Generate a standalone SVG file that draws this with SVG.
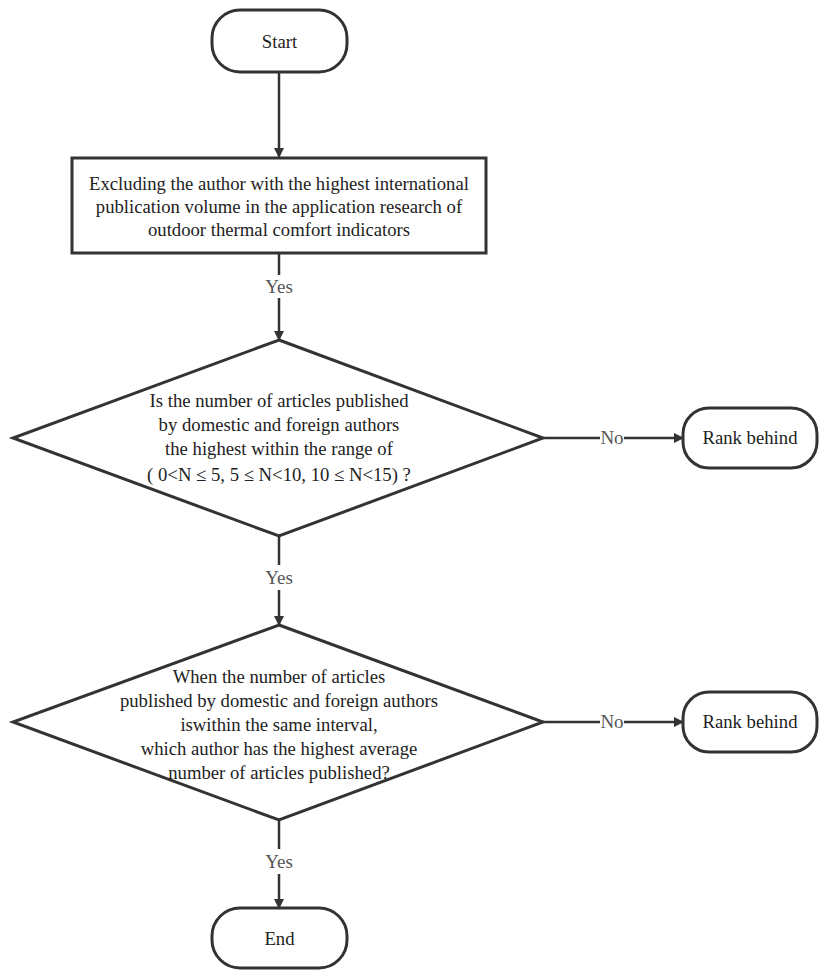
<svg xmlns="http://www.w3.org/2000/svg" width="827" height="980" viewBox="0 0 827 980">
<defs>
<marker id="arr" markerWidth="10" markerHeight="10" refX="9" refY="5" orient="auto" markerUnits="userSpaceOnUse" viewBox="0 0 10 10">
<path d="M0,0 L10,5 L0,10 z" fill="#333"/>
</marker>
<style>
.shape{fill:#fff;stroke:#333;stroke-width:3}
.line{fill:none;stroke:#333;stroke-width:2.5}
text{font-family:'Liberation Serif','DejaVu Serif',serif;text-anchor:middle}
.t{fill:#222;font-size:18.7px}
.lbl{fill:#555;font-size:19px}
</style>
</defs>
<rect width="827" height="980" fill="#fff"/>
<g id="connectors">
<line class="line" x1="279" y1="72" x2="279" y2="157" marker-end="url(#arr)"/>
<line class="line" x1="279" y1="253" x2="279" y2="275"/>
<line class="line" x1="279" y1="298" x2="279" y2="340" marker-end="url(#arr)"/>
<text class="lbl" x="279" y="293">Yes</text>
<line class="line" x1="543" y1="438" x2="600" y2="438"/>
<line class="line" x1="624" y1="438" x2="683" y2="438" marker-end="url(#arr)"/>
<text class="lbl" x="612" y="444">No</text>
<line class="line" x1="279" y1="536" x2="279" y2="565"/>
<line class="line" x1="279" y1="590" x2="279" y2="625" marker-end="url(#arr)"/>
<text class="lbl" x="279" y="584">Yes</text>
<line class="line" x1="543" y1="722" x2="600" y2="722"/>
<line class="line" x1="624" y1="722" x2="683" y2="722" marker-end="url(#arr)"/>
<text class="lbl" x="612" y="728">No</text>
<line class="line" x1="279" y1="820" x2="279" y2="849"/>
<line class="line" x1="279" y1="874" x2="279" y2="908" marker-end="url(#arr)"/>
<text class="lbl" x="279" y="868">Yes</text>
</g>
<g id="start">
<rect class="shape" x="212" y="10" width="135" height="62" rx="28"/>
<text class="t" x="279.5" y="48">Start</text>
</g>
<g id="exclude">
<rect class="shape" x="72" y="158" width="414" height="95"/>
<text class="t" x="279" y="190">Excluding the author with the highest international</text>
<text class="t" x="279" y="213">publication volume in the application research of</text>
<text class="t" x="279" y="236">outdoor thermal comfort indicators</text>
</g>
<g id="decision1">
<polygon class="shape" points="279,340 543,438 279,536 13,438"/>
<text class="t" x="279" y="407">Is the number of articles published</text>
<text class="t" x="279" y="431">by domestic and foreign authors</text>
<text class="t" x="279" y="455">the highest within the range of</text>
<text class="t" x="279" y="481">( 0&lt;N ≤ 5, 5 ≤ N&lt;10, 10 ≤ N&lt;15)  ?</text>
</g>
<g id="rank1">
<rect class="shape" x="683" y="408" width="134" height="60" rx="26"/>
<text class="t" x="750" y="444">Rank behind</text>
</g>
<g id="decision2">
<polygon class="shape" points="279,625 543,722 279,820 13,722"/>
<text class="t" x="279" y="683">When the number of articles</text>
<text class="t" x="279" y="707">published by domestic and foreign authors</text>
<text class="t" x="279" y="731">iswithin the same interval,</text>
<text class="t" x="279" y="755">which author has the highest average</text>
<text class="t" x="279" y="779">number of articles published?</text>
</g>
<g id="rank2">
<rect class="shape" x="683" y="692" width="134" height="60" rx="26"/>
<text class="t" x="750" y="728">Rank behind</text>
</g>
<g id="end">
<rect class="shape" x="212" y="908" width="135" height="60" rx="28"/>
<text class="t" x="279.5" y="945">End</text>
</g>
</svg>
